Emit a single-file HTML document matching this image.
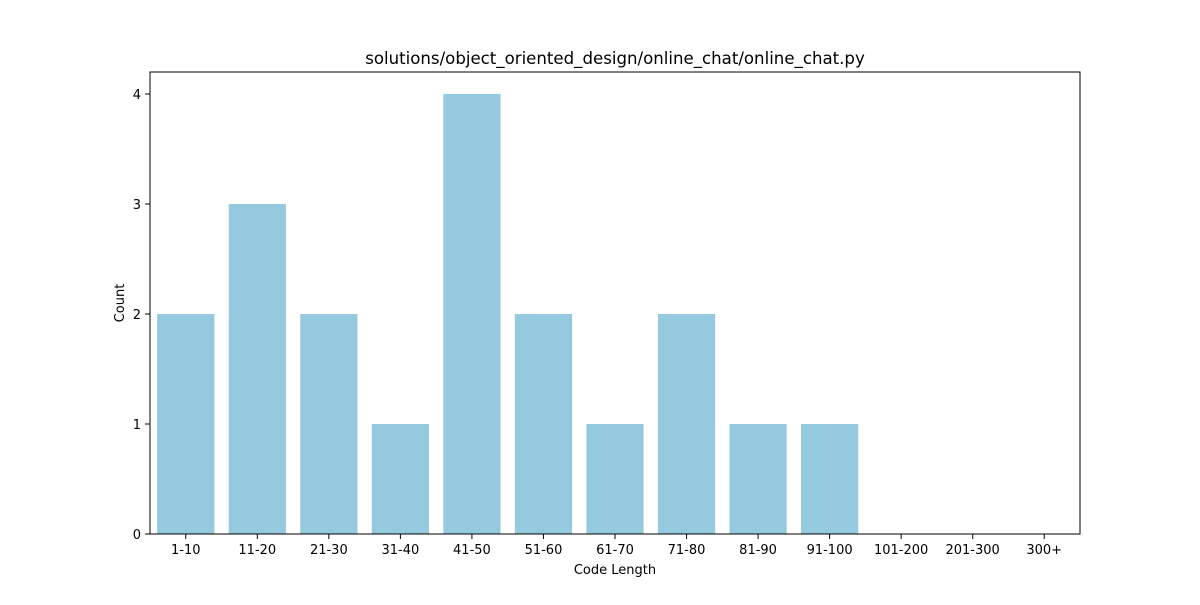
<!DOCTYPE html>
<html><head><meta charset="utf-8"><style>
body{margin:0;background:#fff;}
svg text{font-family:"DejaVu Sans","Liberation Sans",sans-serif;fill:#000;}
</style></head><body>
<svg id="chart" width="1200" height="600">
<rect x="0" y="0" width="1200" height="600" fill="#fff"/>
<g id="bars"></g>
<g id="axes"></g>
</svg>
<script>
const categories=["1-10","11-20","21-30","31-40","41-50","51-60","61-70","71-80","81-90","91-100","101-200","201-300","300+"];
const counts=[2,3,2,1,4,2,1,2,1,1,0,0,0];
const yTicks=[0,1,2,3,4];
const L=150,R=1080,T=72,B=534,yMax=4.2;
const ns="http://www.w3.org/2000/svg";
const svg=document.getElementById('chart');
const bw=(R-L)/categories.length;
function x(i){return L+bw*i+bw/2;}
function y(v){return B-(v/yMax)*(B-T);}
function mk(tag,attrs,parent,text){const e=document.createElementNS(ns,tag);for(const k in attrs)e.setAttribute(k,attrs[k]);if(text!==undefined)e.textContent=text;(parent||svg).appendChild(e);return e;}
const gb=document.getElementById('bars'),ga=document.getElementById('axes');
counts.forEach((c,i)=>{
 const r=mk('rect',{x:x(i)-bw*0.4,y:y(c),width:bw*0.8,height:B-y(c),fill:'#95c9dd'},gb);
 
 
});
const f=mk('rect',{x:L,y:T,width:R-L,height:B-T,fill:'none',stroke:'#000','stroke-width':1},ga);


categories.forEach((c,i)=>{
 mk('line',{x1:x(i),x2:x(i),y1:B,y2:B+5,stroke:'#000'},ga);
 const t=mk('text',{x:x(i),y:B+20,'text-anchor':'middle','font-size':13},ga,c);
 
 
});
yTicks.forEach(v=>{
 mk('line',{x1:L-5,x2:L,y1:y(v),y2:y(v),stroke:'#000'},ga);
 const t=mk('text',{x:L-9,y:y(v)+5,'text-anchor':'end','font-size':13},ga,v);
 
 
});
const xt=mk('text',{x:(L+R)/2,y:574,'text-anchor':'middle','font-size':13},ga,'Code Length');


const yt=mk('text',{x:124,y:(T+B)/2,'text-anchor':'middle','font-size':13,transform:'rotate(-90 124 '+((T+B)/2)+')'},ga,'Count');


const tt=mk('text',{x:(L+R)/2,y:64,'text-anchor':'middle','font-size':16.6},ga,'solutions/object_oriented_design/online_chat/online_chat.py');


</script>
</body></html>
